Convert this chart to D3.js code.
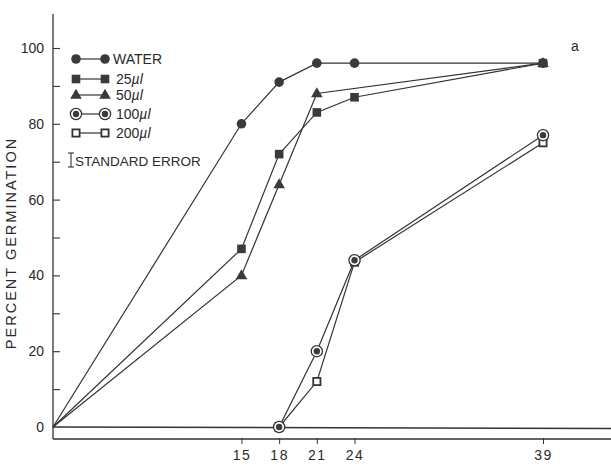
<!DOCTYPE html>
<html>
<head>
<meta charset="utf-8">
<script src="https://cdn.jsdelivr.net/npm/d3@7"></script>
<style>
  body { margin: 0; background: #fff; }
  text { font-family: "Liberation Sans", Arial, sans-serif; fill: #2a2a2a; }
</style>
</head>
<body>
<div id="chart"></div>
<script>
// data (days after treatment, % germination)
var water   = [[0, 0], [15, 80], [18, 91], [21, 96], [24, 96], [39, 96]];
var ul25    = [[0, 0], [15, 47], [18, 72], [21, 83], [24, 87], [39, 96]];
var ul50    = [[0, 0], [15, 40], [18, 64], [21, 88], [39, 96]];
var ul100   = [[18, 0], [21, 20], [24, 44], [39, 77]];
var ul200   = [[18, 0], [21, 12], [24, 43.5], [39, 75]];
var xTicks  = [15, 18, 21, 24, 39];
var yTicks  = [0, 10, 20, 30, 40, 50, 60, 70, 80, 90, 100];
var legendLabels = ["WATER", "25", "50", "100", "200"];

var W = 611, H = 470;
var ink = "#333";

var svg = d3.select("#chart").append("svg")
  .attr("width", W)
  .attr("height", H);

// scales
var x = d3.scaleLinear().domain([0, 39]).range([53, 543]);
var y = d3.scaleLinear().domain([0, 100]).range([427, 48]);
var axisBottomY = 439;

// y axis line + inward ticks
svg.append("line")
  .attr("x1", x(0)).attr("x2", x(0))
  .attr("y1", y(109)).attr("y2", axisBottomY)
  .attr("stroke", ink).attr("stroke-width", 1.3);

var yAxis = d3.axisLeft(y)
  .tickValues(yTicks)
  .tickSizeInner(-7)
  .tickSizeOuter(0)
  .tickPadding(9)
  .tickFormat(function (d) { return d % 20 === 0 ? d : ""; });

var gy = svg.append("g")
  .attr("transform", "translate(" + x(0) + ",0)")
  .call(yAxis);
gy.select(".domain").remove();
gy.selectAll("line").attr("stroke", ink).attr("stroke-width", 1.1);
gy.selectAll("line").filter(function (d) { return d === 0; }).remove();
gy.selectAll("text")
  .style("font-family", "'Liberation Sans', Arial, sans-serif")
  .style("font-size", "14px")
  .attr("fill", "#2a2a2a");

// y title
svg.append("text")
  .attr("transform", "translate(16," + 243 + ")rotate(-90)")
  .attr("text-anchor", "middle")
  .style("font-size", "14.5px")
  .style("letter-spacing", "2px")
  .text("PERCENT GERMINATION");

// bottom axis
svg.append("line")
  .attr("x1", x(0)).attr("x2", W)
  .attr("y1", axisBottomY).attr("y2", axisBottomY)
  .attr("stroke", ink).attr("stroke-width", 1.4);

var xAxis = d3.axisBottom(x)
  .tickValues(xTicks)
  .tickSizeInner(6)
  .tickSizeOuter(0)
  .tickPadding(6);

var gx = svg.append("g")
  .attr("transform", "translate(0," + (axisBottomY - 1) + ")")
  .call(xAxis);
gx.select(".domain").remove();
gx.selectAll("line").attr("stroke", ink).attr("stroke-width", 1);
gx.selectAll("text")
  .style("font-family", "'Liberation Sans', Arial, sans-serif")
  .style("font-size", "14px")
  .style("letter-spacing", "1.5px")
  .attr("fill", "#2a2a2a");

// zero line across the plot
svg.append("line")
  .attr("x1", x(0)).attr("x2", W)
  .attr("y1", y(0)).attr("y2", y(0) + 1.5)
  .attr("stroke", ink).attr("stroke-width", 1.6);

var line = d3.line()
  .x(function (d) { return x(d[0]); })
  .y(function (d) { return y(d[1]); });

var series = [ul200, ul100, ul50, ul25, water];
series.forEach(function (s) {
  svg.append("path")
    .datum(s)
    .attr("d", line)
    .attr("fill", "none")
    .attr("stroke", ink)
    .attr("stroke-width", 1.2);
});

// marker painters
var fillC = "#3a3a3a";
function drawMarker(g, kind, cx, cy) {
  if (kind === "circle") {
    g.append("circle").attr("cx", cx).attr("cy", cy).attr("r", 4.8).attr("fill", fillC);
  } else if (kind === "square") {
    g.append("rect").attr("x", cx - 4.3).attr("y", cy - 4.3)
      .attr("width", 8.6).attr("height", 8.6).attr("fill", fillC);
  } else if (kind === "triangle") {
    g.append("path")
      .attr("transform", "translate(" + cx + "," + (cy + 0.5) + ")")
      .attr("d", d3.symbol().type(d3.symbolTriangle).size(58)())
      .attr("fill", fillC);
  } else if (kind === "target") {
    g.append("circle").attr("cx", cx).attr("cy", cy).attr("r", 5.6)
      .attr("fill", "#fff").attr("stroke", ink).attr("stroke-width", 1.3);
    g.append("circle").attr("cx", cx).attr("cy", cy).attr("r", 3.2).attr("fill", fillC);
  } else if (kind === "open") {
    g.append("rect").attr("x", cx - 3.6).attr("y", cy - 3.6)
      .attr("width", 7.2).attr("height", 7.2)
      .attr("fill", "#fff").attr("stroke", ink).attr("stroke-width", 1.8);
  }
}

var kinds = ["circle", "square", "triangle", "target", "open"];
var allSeries = [water, ul25, ul50, ul100, ul200];
var markers = svg.append("g");
[4, 3, 2, 1, 0].forEach(function (i) {
  allSeries[i].forEach(function (d) {
    if (d[0] === 0) return;
    drawMarker(markers, kinds[i], x(d[0]), y(d[1]));
  });
});

// "a" label
svg.append("text")
  .attr("x", x(39) + 28).attr("y", y(96) - 12)
  .style("font-size", "14px")
  .text("a");

// legend
var legendY = [59, 79, 95, 114, 133];
var leg = svg.append("g");
legendLabels.forEach(function (lab, i) {
  var ly = legendY[i];
  leg.append("line")
    .attr("x1", 76).attr("x2", 105)
    .attr("y1", ly).attr("y2", ly)
    .attr("stroke", ink).attr("stroke-width", 1.2);
  drawMarker(leg, kinds[i], 76, ly);
  drawMarker(leg, kinds[i], 105, ly);
  var t = leg.append("text")
    .attr("x", i === 0 ? 113 : 116)
    .attr("y", ly + 5)
    .style("font-size", "14px");
  if (i === 0) {
    t.text(lab);
  } else {
    t.append("tspan").text(lab);
    t.append("tspan").style("font-style", "italic").text("\u00b5l");
  }
});

// standard error key
var eb = leg.append("g").attr("stroke", ink).attr("stroke-width", 1.1);
eb.append("line").attr("x1", 71).attr("x2", 71).attr("y1", 153).attr("y2", 167);
eb.append("line").attr("x1", 68).attr("x2", 74).attr("y1", 153).attr("y2", 153);
eb.append("line").attr("x1", 68).attr("x2", 74).attr("y1", 167).attr("y2", 167);
leg.append("text")
  .attr("x", 75).attr("y", 166)
  .style("font-size", "13.5px")
  .text("STANDARD ERROR");
</script>
</body>
</html>
